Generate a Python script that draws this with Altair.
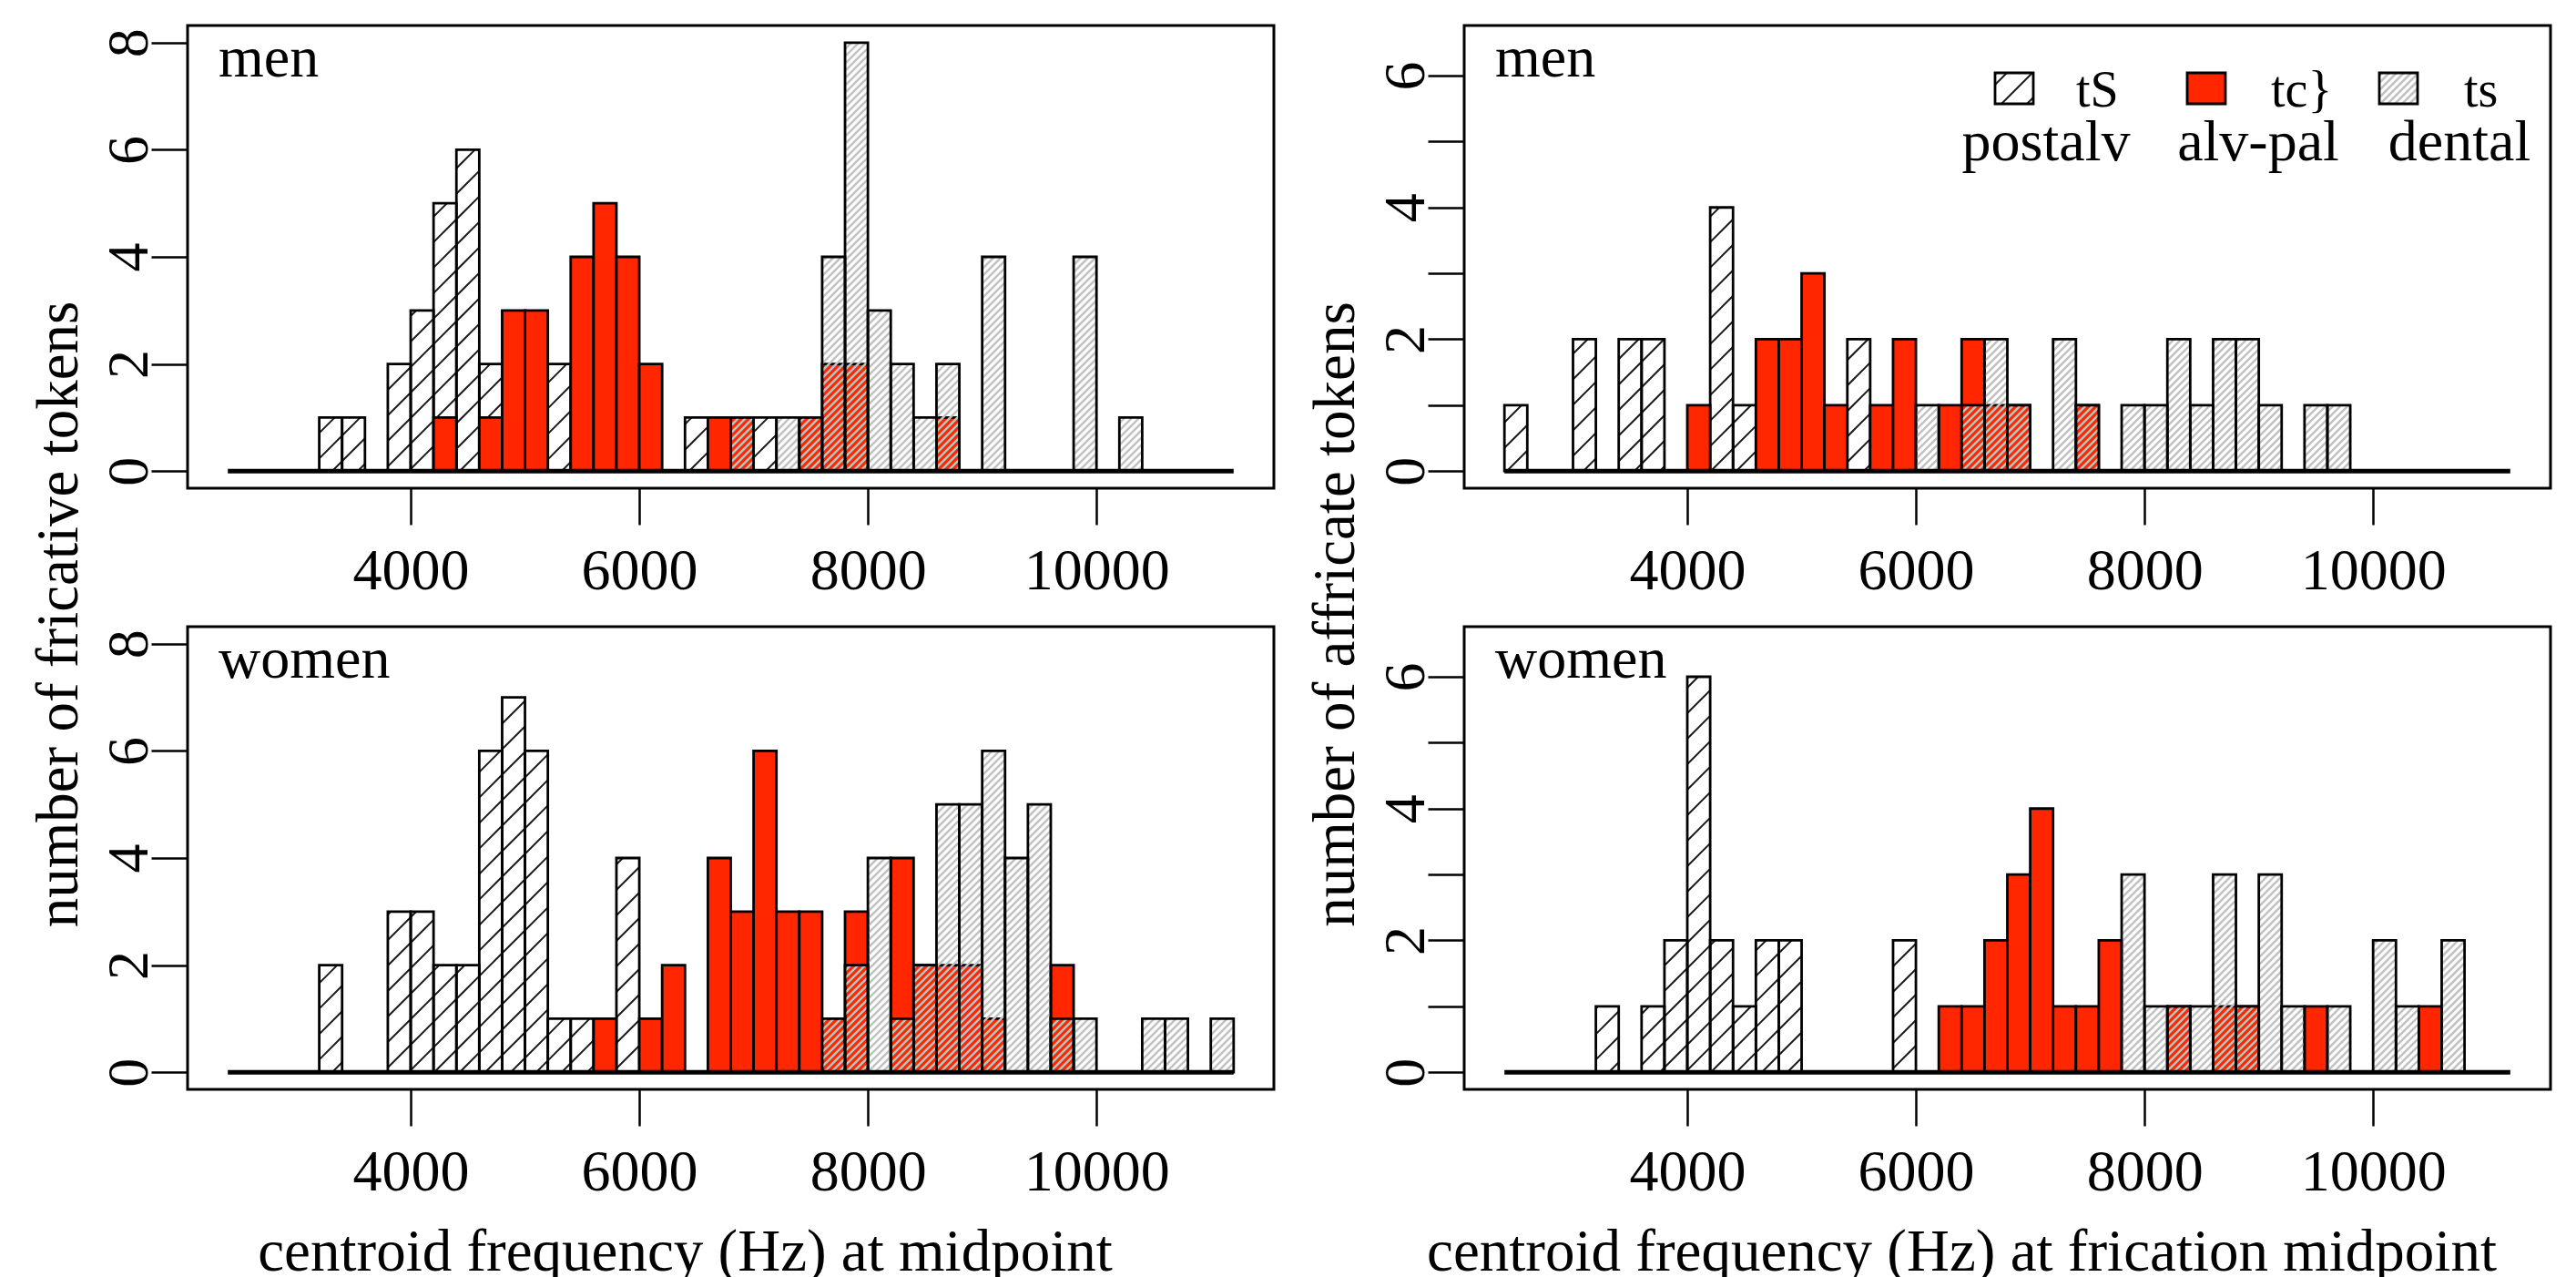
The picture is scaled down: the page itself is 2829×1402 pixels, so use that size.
import math
import altair as alt
import pandas as pd

FONT = "Liberation Serif"
RED = "#ff2600"
HATCH_DARK = "#1a1a1a"
HATCH_GRAY = "#c2c2c2"
EDGE = 2.8

BIN = 200
X_MIN, X_MAX = 2048, 11552
BASE_LO, BASE_HI = 2400, 11200
W, H = 1193, 508
KX = W / (X_MAX - X_MIN)

X_TICKS = [4000, 6000, 8000, 10000]

# ---------------- data (bin start in Hz, count) ----------------
# men, fricatives
men_fric_postalv_bins = [3200, 3400, 3800, 4000, 4200, 4400, 4600, 5200, 6400, 7000]
men_fric_postalv_counts = [1, 1, 2, 3, 5, 6, 2, 2, 1, 1]
men_fric_alvpal_bins = [4200, 4600, 4800, 5000, 5400, 5600, 5800, 6000, 6600, 6800, 7400, 7600, 7800, 8600]
men_fric_alvpal_counts = [1, 1, 3, 3, 4, 5, 4, 2, 1, 1, 1, 2, 2, 1]
men_fric_dental_bins = [6800, 7200, 7400, 7600, 7800, 8000, 8200, 8400, 8600, 9000, 9800, 10200]
men_fric_dental_counts = [1, 1, 1, 4, 8, 3, 2, 1, 2, 4, 4, 1]

# women, fricatives
women_fric_postalv_bins = [3200, 3800, 4000, 4200, 4400, 4600, 4800, 5000, 5200, 5400, 5800]
women_fric_postalv_counts = [2, 3, 3, 2, 2, 6, 7, 6, 1, 1, 4]
women_fric_alvpal_bins = [5600, 6000, 6200, 6600, 6800, 7000, 7200, 7400, 7600, 7800, 8200, 8400, 8600, 8800, 9000, 9600]
women_fric_alvpal_counts = [1, 1, 2, 4, 3, 6, 3, 3, 1, 3, 4, 2, 2, 2, 1, 2]
women_fric_dental_bins = [7600, 7800, 8000, 8200, 8400, 8600, 8800, 9000, 9200, 9400, 9600, 9800, 10400, 10600, 11000]
women_fric_dental_counts = [1, 2, 4, 1, 2, 5, 5, 6, 4, 5, 1, 1, 1, 1, 1]

# men, affricates
men_affr_postalv_bins = [2400, 3000, 3400, 3600, 4200, 4400, 5400]
men_affr_postalv_counts = [1, 2, 2, 2, 4, 1, 2]
men_affr_alvpal_bins = [4000, 4600, 4800, 5000, 5200, 5600, 5800, 6200, 6400, 6600, 6800, 7400]
men_affr_alvpal_counts = [1, 2, 2, 3, 1, 1, 2, 1, 2, 1, 1, 1]
men_affr_dental_bins = [6000, 6400, 6600, 6800, 7200, 7400, 7800, 8000, 8200, 8400, 8600, 8800, 9000, 9400, 9600]
men_affr_dental_counts = [1, 1, 2, 1, 2, 1, 1, 1, 2, 1, 2, 2, 1, 1, 1]

# women, affricates
women_affr_postalv_bins = [3200, 3600, 3800, 4000, 4200, 4400, 4600, 4800, 5800]
women_affr_postalv_counts = [1, 1, 2, 6, 2, 1, 2, 2, 2]
women_affr_alvpal_bins = [6200, 6400, 6600, 6800, 7000, 7200, 7400, 7600, 8200, 8600, 8800, 9400, 10400]
women_affr_alvpal_counts = [1, 1, 2, 3, 4, 1, 1, 2, 1, 1, 1, 1, 1]
women_affr_dental_bins = [7800, 8000, 8200, 8400, 8600, 8800, 9000, 9200, 9600, 10000, 10200, 10600]
women_affr_dental_counts = [3, 1, 1, 1, 3, 1, 3, 1, 1, 2, 1, 2]

legend_symbols = ["tS", "tc}", "ts"]
legend_names = ["postalv", "alv-pal", "dental"]

FRIC_Y = (-0.32, 8.32)
AFFR_Y = (-0.26, 6.76)


def bars_df(bins, counts):
    return pd.DataFrame({
        "x0": bins,
        "x1": [b + BIN for b in bins],
        "y0": [0] * len(bins),
        "y1": counts,
    })


def hatch_df(rects, ky, ylo, spacing):
    rows = []
    for (x0, x1, y0, y1) in rects:
        X0 = (x0 - X_MIN) * KX
        X1 = (x1 - X_MIN) * KX
        Y0 = (y0 - ylo) * ky
        Y1 = (y1 - ylo) * ky
        kmin = math.floor((X0 - Y1) / spacing)
        kmax = math.ceil((X1 - Y0) / spacing)
        for k in range(kmin, kmax + 1):
            c = k * spacing
            xa = max(X0, c + Y0)
            xb = min(X1, c + Y1)
            if xb - xa > 0.3:
                rows.append({
                    "x": X_MIN + xa / KX, "x2": X_MIN + xb / KX,
                    "y": ylo + (xa - c) / ky, "y2": ylo + (xb - c) / ky,
                })
    return pd.DataFrame(rows)


def axis_x(title):
    return alt.Axis(
        values=X_TICKS, format="d", title=title, domain=False, grid=False,
        ticks=True, tickSize=40, tickWidth=2.5, tickColor="black",
        labelFont=FONT, labelFontSize=64, labelColor="black",
        labelPadding=70, labelBaseline="alphabetic", labelAlign="center",
        labelAngle=0, labelOverlap=False, labelFlush=False,
        titleFont=FONT, titleFontSize=65, titleFontWeight="normal", titleColor="black",
        titleX=546, titleY=198, titleAlign="center", titleBaseline="alphabetic", titleAngle=0,
    )


def axis_y(title, values, even_only):
    kw = dict(
        values=values, title=title, domain=False, grid=False,
        ticks=True, tickSize=40, tickWidth=2.5, tickColor="black",
        labelFont=FONT, labelFontSize=64, labelColor="black",
        labelPadding=5, labelBaseline="alphabetic", labelAlign="center",
        labelAngle=270, labelOverlap=False, labelFlush=False,
        titleFont=FONT, titleFontSize=65, titleFontWeight="normal", titleColor="black",
        titleX=-122, titleY=646, titleAlign="center", titleBaseline="alphabetic", titleAngle=270,
    )
    if even_only:
        kw["labelExpr"] = "datum.value % 2 == 0 ? datum.label : ''"
    return alt.Axis(**kw)


def text_layer(txt, px, py, size, align="left"):
    return alt.Chart(pd.DataFrame({"t": [txt]})).mark_text(
        align=align, baseline="alphabetic", font=FONT, fontSize=size, color="black"
    ).encode(x=alt.value(px), y=alt.value(py), text="t:N")


def panel(post, alv, den, ydom, yvals, even_only, label, ytitle, xtitle, legend=False):
    ylo, yhi = ydom
    ky = H / (yhi - ylo)
    xs = alt.Scale(domain=[X_MIN, X_MAX], nice=False, zero=False)
    ys = alt.Scale(domain=[ylo, yhi], nice=False, zero=False)
    ax = axis_x(xtitle)
    ay = axis_y(ytitle, yvals, even_only)

    def rect_enc(ch):
        return ch.encode(
            x=alt.X("x0:Q", scale=xs, axis=ax), x2="x1:Q",
            y=alt.Y("y0:Q", scale=ys, axis=ay), y2="y1:Q",
        )

    def rule_enc(ch):
        return ch.encode(
            x=alt.X("x:Q", scale=xs, axis=ax), x2="x2:Q",
            y=alt.Y("y:Q", scale=ys, axis=ay), y2="y2:Q",
        )

    post_df = bars_df(*post)
    alv_df = bars_df(*alv)
    den_df = bars_df(*den)

    post_h = hatch_df(list(post_df.itertuples(index=False, name=None)), ky, ylo, 28)
    den_h = hatch_df(list(den_df.itertuples(index=False, name=None)), ky, ylo, 8)

    layers = [
        rule_enc(alt.Chart(post_h).mark_rule(color=HATCH_DARK, strokeWidth=2)),
        rect_enc(alt.Chart(post_df).mark_rect(fill="transparent", stroke="black", strokeWidth=EDGE)),
        rect_enc(alt.Chart(alv_df).mark_rect(fill=RED, stroke="black", strokeWidth=EDGE)),
        rule_enc(alt.Chart(den_h).mark_rule(color=HATCH_GRAY, strokeWidth=2.5)),
        rect_enc(alt.Chart(den_df).mark_rect(fill="transparent", stroke="black", strokeWidth=EDGE)),
        alt.Chart(pd.DataFrame({"x": [BASE_LO], "x2": [BASE_HI], "y": [0]})).mark_rule(
            color="black", strokeWidth=5
        ).encode(
            x=alt.X("x:Q", scale=xs, axis=ax), x2="x2:Q",
            y=alt.Y("y:Q", scale=ys, axis=ay),
        ),
        text_layer(label, 34, 56, 64),
    ]

    if legend:
        def px2x(px):
            return X_MIN + px / KX

        def py2y(py):
            return yhi - py / ky

        sw_left = [583, 794, 1005]
        sw_w, sw_top, sw_bot = 42, 52, 86
        fills = ["white", RED, "white"]
        sw = pd.DataFrame({
            "x0": [px2x(l) for l in sw_left],
            "x1": [px2x(l + sw_w) for l in sw_left],
            "y0": [py2y(sw_bot)] * 3,
            "y1": [py2y(sw_top)] * 3,
            "fill": fills,
        })
        layers.append(rect_enc(alt.Chart(sw).mark_rect()).encode(fill=alt.Fill("fill:N", scale=None)))
        h1 = hatch_df([tuple(sw.iloc[0][["x0", "x1", "y0", "y1"]])], ky, ylo, 28)
        h3 = hatch_df([tuple(sw.iloc[2][["x0", "x1", "y0", "y1"]])], ky, ylo, 8)
        layers.append(rule_enc(alt.Chart(h1).mark_rule(color=HATCH_DARK, strokeWidth=2)))
        layers.append(rule_enc(alt.Chart(h3).mark_rule(color=HATCH_GRAY, strokeWidth=2.5)))
        layers.append(rect_enc(alt.Chart(sw).mark_rect(fill="transparent", stroke="black", strokeWidth=EDGE)))
        for sym, px in zip(legend_symbols, [672, 886, 1098]):
            layers.append(text_layer(sym, px, 89, 56))
        for nm, px in zip(legend_names, [639, 872, 1093]):
            layers.append(text_layer(nm, px, 148, 64, align="center"))

    return alt.layer(*layers).properties(width=W, height=H)


A = panel((men_fric_postalv_bins, men_fric_postalv_counts),
          (men_fric_alvpal_bins, men_fric_alvpal_counts),
          (men_fric_dental_bins, men_fric_dental_counts),
          FRIC_Y, [0, 2, 4, 6, 8], False, "men",
          "number of fricative tokens", "")
B = panel((women_fric_postalv_bins, women_fric_postalv_counts),
          (women_fric_alvpal_bins, women_fric_alvpal_counts),
          (women_fric_dental_bins, women_fric_dental_counts),
          FRIC_Y, [0, 2, 4, 6, 8], False, "women",
          "", "centroid frequency (Hz) at midpoint")
C = panel((men_affr_postalv_bins, men_affr_postalv_counts),
          (men_affr_alvpal_bins, men_affr_alvpal_counts),
          (men_affr_dental_bins, men_affr_dental_counts),
          AFFR_Y, [0, 1, 2, 3, 4, 5, 6], True, "men",
          "number of affricate tokens", "", legend=True)
D = panel((women_affr_postalv_bins, women_affr_postalv_counts),
          (women_affr_alvpal_bins, women_affr_alvpal_counts),
          (women_affr_dental_bins, women_affr_dental_counts),
          AFFR_Y, [0, 1, 2, 3, 4, 5, 6], True, "women",
          "", "centroid frequency (Hz) at frication midpoint")

chart = alt.concat(
    A, C, B, D, columns=2, spacing={"row": 152, "column": 209}, bounds="flush"
).properties(
    padding={"left": 22, "top": 18, "right": 5, "bottom": 0},
    background="white",
).configure_view(stroke="black", strokeWidth=3)

chart.save("out.html", embed_options={"renderer": "svg", "actions": False})
